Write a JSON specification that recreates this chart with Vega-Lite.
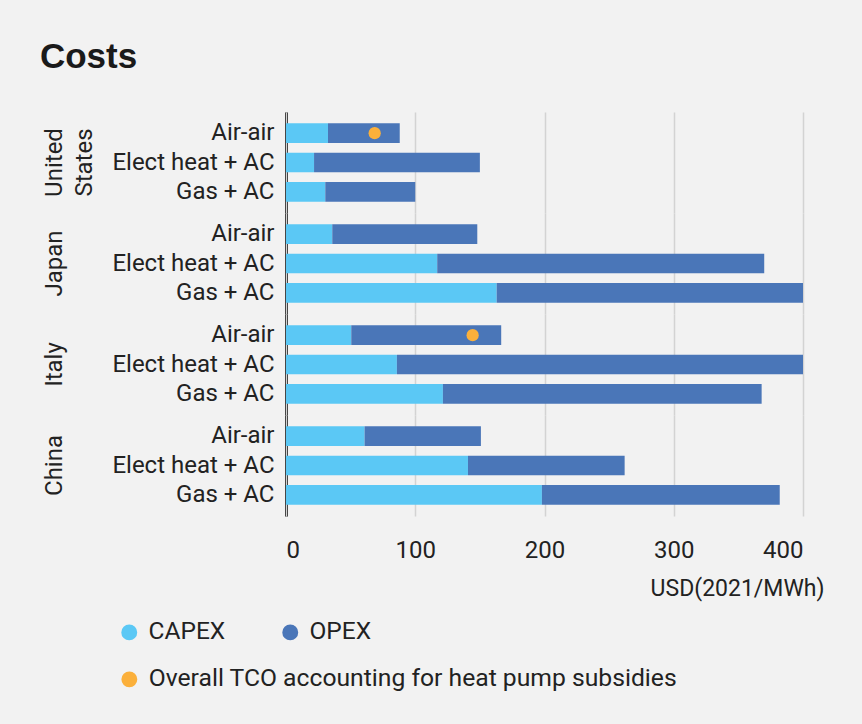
{
  "$schema": "https://vega.github.io/schema/vega-lite/v6.json",
  "background": "#f2f2f2",
  "padding": {"left": 39, "top": 40, "right": 41, "bottom": 35},
  "title": {
    "text": "Costs",
    "font": "Liberation Sans",
    "fontSize": 35,
    "fontWeight": "bold",
    "color": "#1a1a1a",
    "anchor": "start",
    "frame": "bounds",
    "offset": 37,
    "dx": -3
  },
  "data": {
    "values": [
      {"country": "United States", "type": "Air-air", "CAPEX": 32.5, "OPEX": 55.5, "tco": 68.6},
      {"country": "United States", "type": "Elect heat + AC", "CAPEX": 21.7, "OPEX": 128.3},
      {"country": "United States", "type": "Gas + AC", "CAPEX": 30.4, "OPEX": 69.6},
      {"country": "Japan", "type": "Air-air", "CAPEX": 35.8, "OPEX": 112.2},
      {"country": "Japan", "type": "Elect heat + AC", "CAPEX": 117, "OPEX": 253},
      {"country": "Japan", "type": "Gas + AC", "CAPEX": 163, "OPEX": 237},
      {"country": "Italy", "type": "Air-air", "CAPEX": 50.5, "OPEX": 116, "tco": 144.4},
      {"country": "Italy", "type": "Elect heat + AC", "CAPEX": 85.8, "OPEX": 314.2},
      {"country": "Italy", "type": "Gas + AC", "CAPEX": 121.4, "OPEX": 246.6},
      {"country": "China", "type": "Air-air", "CAPEX": 60.8, "OPEX": 90},
      {"country": "China", "type": "Elect heat + AC", "CAPEX": 140.8, "OPEX": 121.2},
      {"country": "China", "type": "Gas + AC", "CAPEX": 198, "OPEX": 184}
    ]
  },
  "facet": {
    "row": {
      "field": "country",
      "type": "nominal",
      "sort": ["United States", "Japan", "Italy", "China"],
      "title": null,
      "header": {
        "labelAngle": -90,
        "labelOrient": "left",
        "labelFont": "Roboto",
        "labelFontSize": 24,
        "labelColor": "#222222",
        "labelPadding": 15,
        "labelLineHeight": 30,
        "labelBaseline": "top",
        "labelExpr": "datum.value == 'United States' ? ['United', 'States'] : [datum.value, ' ']"
      }
    }
  },
  "spacing": 0,
  "spec": {
    "width": 517,
    "height": 101,
    "layer": [
      {
        "transform": [{"fold": ["CAPEX", "OPEX"], "as": ["component", "cost"]}],
        "mark": {"type": "bar"},
        "encoding": {
          "y": {
            "field": "type",
            "type": "nominal",
            "sort": ["Air-air", "Elect heat + AC", "Gas + AC"],
            "title": null,
            "scale": {"paddingInner": 0.335, "paddingOuter": 0.387},
            "axis": {
              "domain": true,
              "domainColor": "#1a1a1a",
              "domainWidth": 3,
              "ticks": false,
              "grid": false,
              "labelFont": "Roboto",
              "labelFontSize": 24,
              "labelColor": "#222222",
              "labelPadding": 12
            }
          },
          "x": {
            "field": "cost",
            "type": "quantitative",
            "stack": "zero",
            "title": "USD(2021/MWh)",
            "scale": {"domain": [0, 400], "nice": false},
            "axis": {
              "values": [0, 100, 200, 300, 400],
              "grid": true,
              "gridColor": "#d3d3d3",
              "gridWidth": 1.5,
              "domain": false,
              "ticks": false,
              "labelFont": "Roboto",
              "labelFontSize": 24,
              "labelColor": "#222222",
              "labelPadding": 22,
              "titleFont": "Roboto",
              "titleFontSize": 23,
              "titleFontWeight": "normal",
              "titleColor": "#222222",
              "titleAnchor": "end",
              "titleAlign": "right",
              "titleX": 538,
              "titlePadding": 15
            }
          },
          "color": {
            "field": "component",
            "type": "nominal",
            "scale": {
              "domain": ["CAPEX", "OPEX"],
              "range": ["#5bc8f5", "#4a76b8"]
            },
            "legend": {
              "title": null,
              "orient": "none",
              "legendX": -169,
              "legendY": 508,
              "direction": "horizontal",
              "symbolType": "circle",
              "symbolSize": 254,
              "symbolStrokeWidth": 0,
              "labelFont": "Roboto",
              "labelFontSize": 24.5,
              "labelColor": "#222222",
              "labelOffset": 7,
              "columnPadding": 52
            }
          }
        }
      },
      {
        "transform": [{"filter": "isValid(datum.tco)"}],
        "mark": {"type": "point", "filled": true, "opacity": 1, "size": 150},
        "encoding": {
          "y": {"field": "type", "type": "nominal", "sort": ["Air-air", "Elect heat + AC", "Gas + AC"]},
          "x": {"field": "tco", "type": "quantitative"},
          "fill": {
            "datum": "Overall TCO accounting for heat pump subsidies",
            "scale": {
              "domain": ["Overall TCO accounting for heat pump subsidies"],
              "range": ["#fbb03b"]
            },
            "legend": {
              "title": null,
              "orient": "none",
              "legendX": -169,
              "legendY": 555,
              "symbolType": "circle",
              "symbolSize": 254,
              "symbolStrokeWidth": 0,
              "labelFont": "Roboto",
              "labelFontSize": 24.7,
              "labelColor": "#222222",
              "labelOffset": 7,
              "labelLimit": 700
            }
          }
        }
      }
    ]
  },
  "config": {
    "view": {"stroke": null},
    "font": "Roboto"
  }
}
